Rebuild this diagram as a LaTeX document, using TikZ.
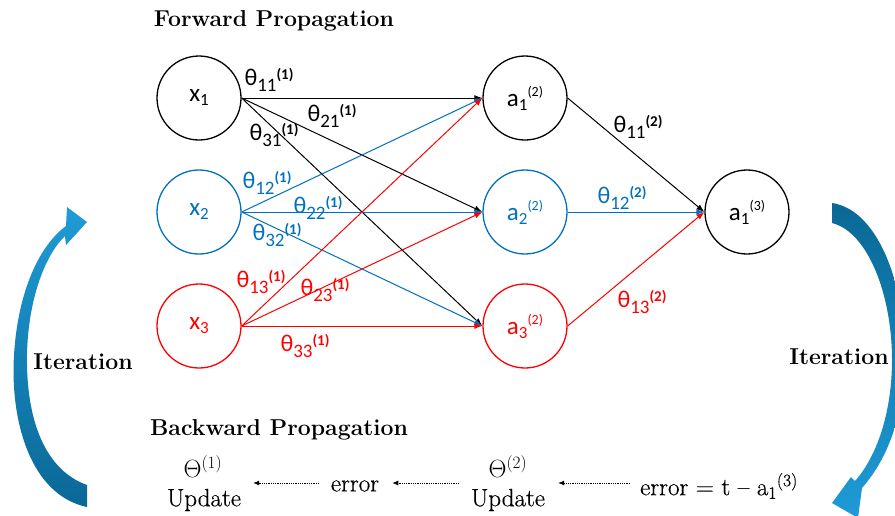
\documentclass[tikz,border=0pt]{standalone}
\usepackage{fontspec}
\newfontfamily\carlfont{Carlito}
\newfontfamily\bkfont{Latin Modern Roman}[FakeBold=0.4]
\usetikzlibrary{arrows.meta}
\definecolor{myblue}{HTML}{0070C0}
\definecolor{myred}{HTML}{FF0000}
\definecolor{arrlight}{HTML}{1F9BD7}
\definecolor{arrdark}{HTML}{0A6896}
\newcommand{\wlsub}[2]{\raisebox{-0.28em}{\fontsize{19}{20}\selectfont #1}\raisebox{0.24em}{\fontsize{15}{16}\selectfont\bfseries #2}}
\newcommand{\nlsub}[2]{\raisebox{-0.16em}{\fontsize{17}{18}\selectfont #1}\raisebox{0.4em}{\fontsize{14}{15}\selectfont #2}}
\begin{document}
\begin{tikzpicture}[x=1pt,y=-1pt,
  neuron/.style={circle,draw,line width=1.3pt,minimum size=84pt,inner sep=0pt,font=\carlfont\fontsize{25}{28}\selectfont},
  wlab/.style={font=\carlfont\fontsize{24}{26}\selectfont,inner sep=0pt},
  conn/.style={line width=1pt,-{Latex[length=8pt,width=6pt]}},
  headtxt/.style={font=\fontsize{23}{26}\selectfont\bfseries,inner sep=0pt},
  serif/.style={font=\bkfont\fontsize{25}{28}\selectfont,inner sep=0pt},
  dotarr/.style={densely dotted,line width=0.8pt,-{Latex[length=6pt,width=5pt]}}
]
\useasboundingbox (0,0) rectangle (895,515);

% iteration arrows
\shade[top color=arrlight, bottom color=arrdark]
  (87,507) .. controls (30,495) and (10,420) .. (14,355)
  .. controls (18,290) and (40,245) .. (66,226) -- (67,207) -- (87,222) -- (66,245) -- (65,236)
  .. controls (45,255) and (28,300) .. (27,355)
  .. controls (26,420) and (45,470) .. (87,485) -- cycle;
\shade[top color=arrdark, bottom color=arrlight]
  (832,203) .. controls (880,210) and (906,290) .. (905,360)
  .. controls (904,420) and (885,462) .. (862,488) -- (858,518) -- (832,503) -- (851,477) -- (855,481)
  .. controls (878,455) and (892,410) .. (892,360)
  .. controls (892,295) and (868,232) .. (832,223) -- cycle;

% neurons
\node[neuron] (x1) at (199,98) {x\nlsub{1}{}};
\node[neuron,myblue] (x2) at (199,212) {x\nlsub{2}{}};
\node[neuron,myred] (x3) at (199,326) {x\nlsub{3}{}};
\node[neuron] (a1) at (525,98) {a\nlsub{1}{(2)}};
\node[neuron,myblue] (a2) at (525,212) {a\nlsub{2}{(2)}};
\node[neuron,myred] (a3) at (525,326) {a\nlsub{3}{(2)}};
\node[neuron] (o1) at (747,212) {a\nlsub{1}{(3)}};

% connections layer 1
\foreach \d in {a1,a2,a3} \draw[conn,black] (x1.east) -- (\d.west);
\foreach \d in {a1,a2,a3} \draw[conn,myblue] (x2.east) -- (\d.west);
\foreach \d in {a1,a2,a3} \draw[conn,myred] (x3.east) -- (\d.west);
% connections layer 2
\draw[conn,black] (a1.east) -- (o1.west);
\draw[conn,myblue] (a2.east) -- (o1.west);
\draw[conn,myred] (a3.east) -- (o1.west);

% weight labels
\node[wlab] (t111) at (269,80) {θ\wlsub{11}{(1)}};
\node[wlab] (t121) at (332,116) {θ\wlsub{21}{(1)}};
\node[wlab] (t131) at (274,135) {θ\wlsub{31}{(1)}};
\node[wlab,myblue] (t211) at (267,183) {θ\wlsub{12}{(1)}};
\node[wlab,myblue] (t221) at (318,208) {θ\wlsub{22}{(1)}};
\node[wlab,myblue] (t231) at (277,235) {θ\wlsub{32}{(1)}};
\node[wlab,myred] (t311) at (261,282) {θ\wlsub{13}{(1)}};
\node[wlab,myred] (t321) at (325,290) {θ\wlsub{23}{(1)}};
\node[wlab,myred] (t331) at (305,346) {θ\wlsub{33}{(1)}};
\node[wlab] (t112) at (638,127) {θ\wlsub{11}{(2)}};
\node[wlab,myblue] (t122) at (622,198) {θ\wlsub{12}{(2)}};
\node[wlab,myred] (t132) at (642,302) {θ\wlsub{13}{(2)}};

% headings
\node[headtxt] (fp) at (274,21) {Forward Propagation};
\node[headtxt] (bp) at (279,430) {Backward Propagation};
\node[headtxt] (itl) at (83,362) {Iteration};
\node[headtxt] (itr) at (839,357) {Iteration};

% backward propagation row
\node[serif] (th1) at (203,467) {$\Theta^{(1)}$};
\node[serif] (up1) at (204,500) {Update};
\node[serif] (er1) at (355,486) {error};
\node[serif] (th2) at (508,467) {$\Theta^{(2)}$};
\node[serif] (up2) at (508,500) {Update};
\node[serif] (er2) at (719,486) {error = t – a\textsubscript{1}\textsuperscript{(3)}};

\draw[dotarr,shorten <=12pt,shorten >=12pt] ([yshift=3pt]er1.west) -- ([yshift=3pt]er1.west -| up1.east);
\draw[dotarr,shorten <=12pt,shorten >=13pt] ([yshift=3pt]er1.east -| up2.west) -- ([yshift=3pt]er1.east);
\draw[dotarr,shorten <=10pt,shorten >=13pt] ([yshift=3pt]er2.west) -- ([yshift=3pt]er2.west -| up2.east);
\end{tikzpicture}
\end{document}
